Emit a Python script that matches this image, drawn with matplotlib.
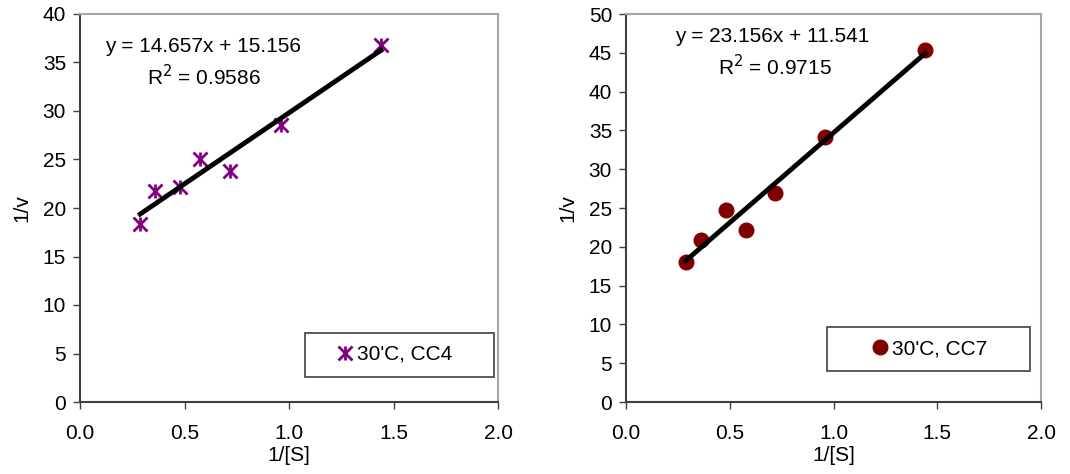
import matplotlib.pyplot as plt
from matplotlib.legend_handler import HandlerTuple
import numpy as np

plt.rcParams['font.family'] = ['Liberation Sans', 'DejaVu Sans']
plt.rcParams['font.size'] = 15

# data
x_cc4 = [0.288, 0.36, 0.48, 0.576, 0.72, 0.96, 1.44]
y_cc4 = [18.3, 21.8, 22.2, 25.0, 23.8, 28.6, 36.8]
x_cc7 = [0.288, 0.36, 0.48, 0.576, 0.72, 0.96, 1.44]
y_cc7 = [18.0, 20.9, 24.8, 22.2, 26.9, 34.2, 45.3]

fit_cc4 = (14.657, 15.156, 0.9586)
fit_cc7 = (23.156, 11.541, 0.9715)

W, H = 1070, 474
FS = 15
fig = plt.figure(figsize=(W / 100, H / 100), dpi=100)
ax1 = fig.add_axes([80 / W, 72 / H, 418 / W, 388 / H])
ax2 = fig.add_axes([626 / W, 72 / H, 415 / W, 388 / H])


def style(ax, ymax):
    ax.set_xlim(0, 2)
    ax.set_ylim(0, ymax)
    ticks = np.arange(0, 2.01, 0.5)
    ax.set_xticks(ticks)
    ax.set_xticklabels(['%.1f' % t for t in ticks])
    ax.set_yticks(np.arange(0, ymax + 1, 5))
    for s in ['top', 'right']:
        ax.spines[s].set_color('#a6a6a6')
        ax.spines[s].set_linewidth(1.5)
    for s in ['left', 'bottom']:
        ax.spines[s].set_color('#404040')
        ax.spines[s].set_linewidth(1.5)
    ax.tick_params(axis='y', direction='out', length=5, width=1, color='#404040', labelsize=FS, pad=5)
    ax.tick_params(axis='x', direction='out', length=5, width=1, color='#404040', labelsize=FS, pad=11)
    ax.set_xlabel('1/[S]', fontsize=FS, labelpad=2)
    ax.set_ylabel('1/v', fontsize=FS, labelpad=8)


def fig_text(x, y, s):
    # x, y in pixels from the top-left corner
    fig.text(x / W, 1 - y / H, s, fontsize=FS, va='center', ha='left')


# left chart
style(ax1, 40)
h1 = ax1.plot(x_cc4, y_cc4, linestyle='none', marker='x', color='#800080', ms=10, mew=2)[0]
h2 = ax1.plot(x_cc4, y_cc4, linestyle='none', marker='|', color='#800080', ms=10, mew=2)[0]
xx = np.array([min(x_cc4), max(x_cc4)])
ax1.plot(xx, fit_cc4[0] * xx + fit_cc4[1], color='black', lw=3.5, zorder=3)
fig_text(105, 46, 'y = %.3fx + %.3f' % fit_cc4[:2])
fig_text(147, 77, 'R$^2$ = %.4f' % fit_cc4[2])
leg = ax1.legend([(h1, h2)], ["30'C, CC4"], handler_map={tuple: HandlerTuple(ndivide=1)},
                 loc='center', mode='expand',
                 bbox_to_anchor=(305 / W, 1 - 378 / H, 189 / W, 47 / H), bbox_transform=fig.transFigure,
                 fancybox=False, framealpha=1, edgecolor='#404040', fontsize=FS,
                 borderpad=0.6, handlelength=2.64, handletextpad=-0.75, borderaxespad=0)
leg.get_frame().set_linewidth(1.2)

# right chart
style(ax2, 50)
c1 = ax2.plot(x_cc7, y_cc7, linestyle='none', marker='o', color='#800000', ms=10.5)[0]
xx = np.array([min(x_cc7), max(x_cc7)])
ax2.plot(xx, fit_cc7[0] * xx + fit_cc7[1], color='black', lw=3.5, zorder=3)
fig_text(675, 36, 'y = %.3fx + %.3f' % fit_cc7[:2])
fig_text(718, 67, 'R$^2$ = %.4f' % fit_cc7[2])
leg2 = ax2.legend([c1], ["30'C, CC7"], loc='center', mode='expand',
                  bbox_to_anchor=(827 / W, 1 - 372 / H, 203 / W, 46 / H), bbox_transform=fig.transFigure,
                  fancybox=False, framealpha=1, edgecolor='#404040', fontsize=FS,
                  borderpad=0.6, handlelength=3.9, handletextpad=-1.37, borderaxespad=0)
leg2.get_frame().set_linewidth(1.2)

fig.savefig('out.png', dpi=100)
